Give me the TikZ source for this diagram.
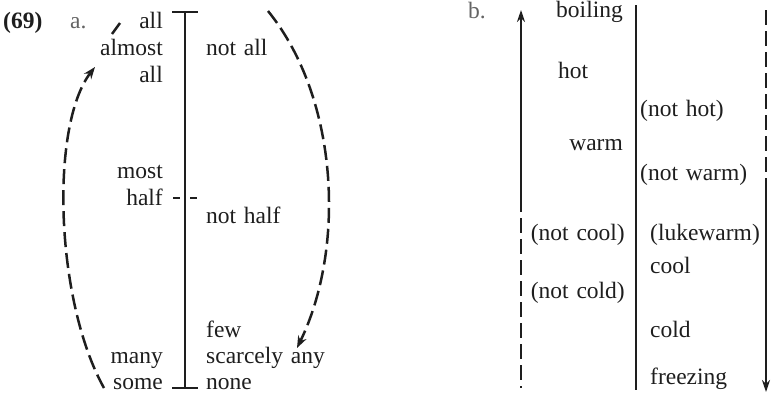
\documentclass[tikz,border=0pt]{standalone}
\usepackage{fontspec}
\setmainfont{Liberation Serif}
\usetikzlibrary{arrows.meta}
\definecolor{ink}{RGB}{30,30,30}
\definecolor{softink}{RGB}{100,100,100}
\newcommand{\labfont}{\fontsize{23.5}{27}\selectfont\spaceskip=0.33em plus 0.1em\relax}
\begin{document}
\begin{tikzpicture}[x=1pt,y=-1pt,
  lab/.style={inner sep=0pt, text=ink, font=\labfont},
  lw/.style={lab, anchor=base east},
  le/.style={lab, anchor=base west},
  scaleline/.style={draw=ink, line width=2.8pt},
  dashline/.style={draw=ink, line width=2.5pt, dash pattern=on 15pt off 6pt},
  tipstyle/.style={-{Stealth[length=12pt,width=9pt]}}]
\useasboundingbox (0,0) rectangle (774,394);

% ---------- part a ----------
\node[le, font=\labfont\bfseries] (num) at (3,28) {(69)};
\node[le, text=softink] (alab) at (70,28) {a.};

\node[lw] (all1) at (163,28) {all};
\node[lw] (almost) at (163,55) {almost};
\node[lw] (all2) at (163,82) {all};
\node[lw] (most) at (163,178) {most};
\node[lw] (half) at (163,205) {half};
\node[lw] (many) at (163,363) {many};
\node[lw] (some) at (163,389) {some};

\node[le] (notall) at (206,55) {not all};
\node[le] (nothalf) at (206,223) {not half};
\node[le] (few) at (206,337) {few};
\node[le] (scarcely) at (206,363) {scarcely any};
\node[le] (none) at (206,389) {none};

\coordinate (aT) at (185,12);
\coordinate (aB) at (185,388);
\coordinate (aTl) at (172,12);
\coordinate (aTr) at (198,12);
\coordinate (aBl) at (172,388);
\coordinate (aBr) at (198,388);
\draw[scaleline] (aT) -- (aB);
\draw[scaleline] (aTl) -- (aTr);
\draw[scaleline] (aBl) -- (aBr);
\coordinate (hL1) at (173,198);
\coordinate (hL2) at (180,198);
\coordinate (hR1) at (190,198);
\coordinate (hR2) at (197,198);
\draw[scaleline] (hL1) -- (hL2);
\draw[scaleline] (hR1) -- (hR2);

% left dashed curve (some -> almost all)
\coordinate (lcS) at (104,388);
\coordinate (lcE) at (95,67);
\draw[dashline, tipstyle] (lcS) .. controls (55,300) and (50,125) .. (lcE);
\coordinate (ldA) at (112,34);
\coordinate (ldB) at (120,23);
\draw[draw=ink, line width=2.5pt] (ldA) -- (ldB);

% right dashed curve (top -> scarcely any)
\coordinate (rcS) at (268,11);
\coordinate (rcE) at (297,348);
\draw[dashline, tipstyle] (rcS) .. controls (340,100) and (345,250) .. (rcE);

% ---------- part b ----------
\node[le, text=softink] (blab) at (468,18) {b.};

\node[lw] (boiling) at (623,17) {boiling};
\node[le] (hot) at (558,78) {hot};
\node[lw] (warm) at (623,150) {warm};
\node[lw] (notcool) at (625,240) {(not cool)};
\node[lw] (notcold) at (625,298) {(not cold)};

\node[le] (nothot) at (640,116) {(not hot)};
\node[le] (notwarm) at (640,180) {(not warm)};
\node[le] (luke) at (650,240) {(lukewarm)};
\node[le] (cool) at (650,273) {cool};
\node[le] (cold) at (650,337) {cold};
\node[le] (freezing) at (650,384) {freezing};

% left line: dashed bottom, solid top with arrow up
\coordinate (bLT) at (521,10);
\coordinate (bLM) at (521,197);
\coordinate (bLB) at (521,388);
\draw[scaleline, -{Stealth[length=12pt,width=8pt]}] (bLM) -- (bLT);
\draw[dashline] (bLM) -- (bLB);

% middle line
\coordinate (bMT) at (636,5);
\coordinate (bMB) at (636,390);
\draw[scaleline] (bMT) -- (bMB);

% right line: dashed top, solid bottom with arrow down
\coordinate (bRT) at (766,10);
\coordinate (bRM) at (766,189);
\coordinate (bRB) at (766,392);
\draw[dashline] (bRT) -- (bRM);
\draw[scaleline, -{Stealth[length=12pt,width=8pt]}] (bRM) -- (bRB);
\end{tikzpicture}
\end{document}
